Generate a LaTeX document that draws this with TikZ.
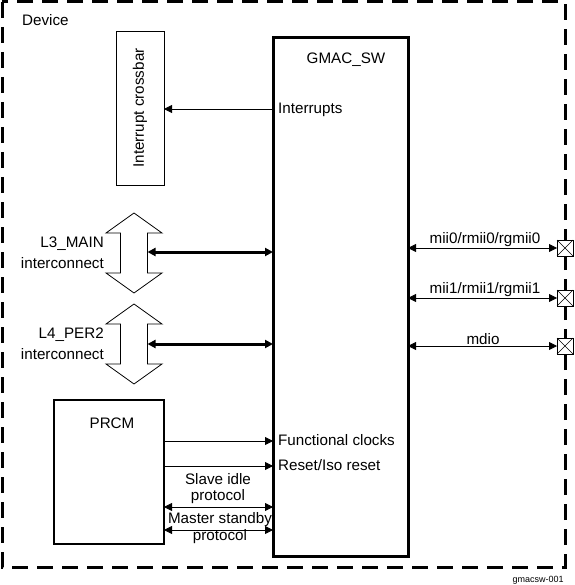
\documentclass[tikz,border=0pt]{standalone}
\usepackage{fontspec}
\setmainfont{Liberation Sans}
\usetikzlibrary{arrows.meta,calc}
\begin{document}
\begin{tikzpicture}[x=1pt,y=-1pt,
  font=\fontsize{15.2}{17}\selectfont,
  tip/.style={-{Triangle[length=8pt,width=8pt]}},
  dtip/.style={{Triangle[length=8pt,width=8pt]}-{Triangle[length=8pt,width=8pt]}},
  blk/.style={draw,line width=3pt,inner sep=0pt,outer sep=0pt},
  pin/.style={draw,fill=white,minimum size=16pt,inner sep=0pt,outer sep=0pt,line width=0.8pt},
  lbl/.style={inner sep=0pt}]
\useasboundingbox (0,0) rectangle (574,585);
% device border
\draw[line width=3pt,dash pattern=on 16pt off 9pt] (2,2) rectangle (565,567);
\node[lbl,anchor=west] (dev) at (22,20) {Device};
% GMAC_SW
\node[blk,minimum width=135pt,minimum height=518pt] (gmac) at (340.5,297) {};
\node[lbl] (gmact) at (346,60) {GMAC\_SW};
% Interrupt crossbar
\node[draw,line width=0.8pt,minimum width=48pt,minimum height=154pt,inner sep=0pt,outer sep=0pt] (xbar) at (140,108) {};
\node[lbl,rotate=90] (xbart) at (140,108) {Interrupt crossbar};
\coordinate (intc) at (273,109);
\draw[tip,line width=0.8pt] (intc) -- (xbar.east |- intc);
\node[lbl,anchor=west] (intt) at (278,110) {Interrupts};
% double arrow shapes
\foreach \n/\cy in {l3/253,l4/344}{
  \node[minimum width=27pt,minimum height=40pt,inner sep=0pt,outer sep=0pt] (\n) at (134,\cy) {};
  \draw[line width=0.8pt,fill=white]
    (\n.north west) -- ++(-14.5,0) -- ($(\n.north)+(0,-20)$) -- ++(28,20) -- (\n.north east)
    -- (\n.south east) -- ++(14.5,0) -- ($(\n.south)+(0,20)$) -- ++(-28,-20) -- (\n.south west) -- cycle;
}
\draw[dtip,line width=3pt] (l3.east |- 0,252) -- (gmac.west |- 0,252);
\draw[dtip,line width=3pt] (l4.east |- 0,344) -- (gmac.west |- 0,344);
\node[lbl,align=right,anchor=east,font=\fontsize{15.2}{21}\selectfont] (l3t) at (104,253) {L3\_MAIN\\interconnect};
\node[lbl,align=right,anchor=east,font=\fontsize{15.2}{21}\selectfont] (l4t) at (104,344) {L4\_PER2\\interconnect};
% PRCM
\node[blk,line width=2.5pt,minimum width=110pt,minimum height=144pt] (prcm) at (109,472) {};
\node[lbl] (prcmt) at (112,423) {PRCM};
\draw[tip,line width=0.8pt] (prcm.east |- 0,441) -- (gmac.west |- 0,441);
\draw[tip,line width=0.8pt] (prcm.east |- 0,466) -- (gmac.west |- 0,466);
\draw[dtip,line width=0.8pt] (prcm.east |- 0,507) -- (gmac.west |- 0,507);
\draw[dtip,line width=0.8pt] (prcm.east |- 0,530) -- (gmac.west |- 0,530);
\node[lbl,anchor=west] (fct) at (278,440) {Functional clocks};
\node[lbl,anchor=west] (rst) at (278,465) {Reset/Iso reset};
\node[lbl,align=center,font=\fontsize{15.2}{16}\selectfont] (sip) at (218,489) {Slave idle\\protocol};
\node[lbl,align=center,font=\fontsize{15.2}{17}\selectfont] (msp) at (220,528) {Master standby\\protocol};
% pins
\foreach \n/\cy in {p0/248,p1/298,p2/346}{
  \node[pin] (\n) at (565,\cy) {};
  \draw[line width=0.6pt] (\n.north west) -- (\n.south east) (\n.south west) -- (\n.north east);
  \draw[dtip,line width=0.8pt] (gmac.east |- \n) -- (\n.west);
}
\node[lbl] (m0) at (485,240) {mii0/rmii0/rgmii0};
\node[lbl] (m1) at (485,290) {mii1/rmii1/rgmii1};
\node[lbl] (md) at (483,339) {mdio};
\node[lbl,font=\fontsize{9}{10}\selectfont] (fig) at (538,580) {gmacsw-001};
\end{tikzpicture}
\end{document}
